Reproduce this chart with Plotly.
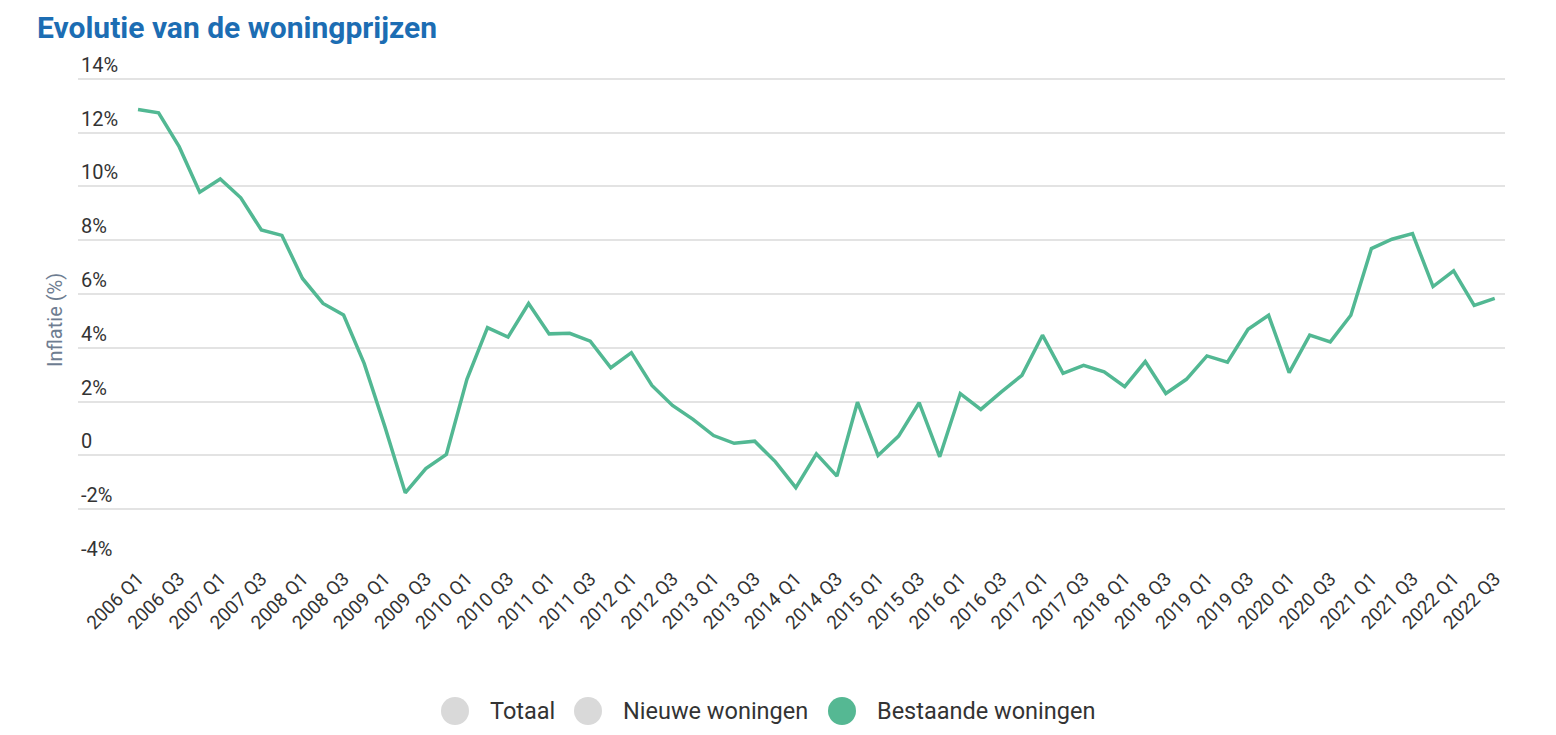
import plotly.graph_objects as go

# ---- data ----
quarters = [f"{y} Q{q}" for y in range(2006, 2023) for q in range(1, 5)][:67]
bestaande = [12.86, 12.74, 11.48, 9.79, 10.28, 9.58, 8.38, 8.18,
             6.58, 5.65, 5.22, 3.42, 1.09, -1.39, -0.49, 0.04,
             2.83, 4.75, 4.40, 5.65, 4.52, 4.54, 4.25, 3.26,
             3.82, 2.60, 1.86, 1.34, 0.74, 0.45, 0.53, -0.23,
             -1.20, 0.06, -0.77, 1.98, 0.00, 0.72, 1.96, -0.05,
             2.30, 1.71, 2.36, 2.98, 4.47, 3.05, 3.35, 3.11,
             2.56, 3.49, 2.30, 2.83, 3.70, 3.47, 4.69, 5.21,
             3.08, 4.47, 4.22, 5.21, 7.69, 8.04, 8.25, 6.28,
             6.86, 5.58, 5.84]
y_ticks = [-4, -2, 0, 2, 4, 6, 8, 10, 12, 14]
y_ticktext = ["-4%", "-2%", "0", "2%", "4%", "6%", "8%", "10%", "12%", "14%"]
legend_names = ["Totaal", "Nieuwe woningen", "Bestaande woningen"]
legend_colors = ["#d9d9d9", "#d9d9d9", "#55b893"]

W, H = 1556, 735
Y_TOP = 15.0
L, R, B = 78, 51, 172
T = int(round(79 - (Y_TOP - 14) * 26.9))
pw, ph = W - L - R, H - T - B

def px_x(p):
    return (p - L) / pw

def px_y(p):
    return (H - B - p) / ph

xs = list(range(len(quarters)))
tickvals = xs[::2]
ticktext = quarters[::2]

fig = go.Figure()
fig.add_trace(go.Scatter(
    x=xs, y=bestaande, mode="lines", name="Bestaande woningen",
    line=dict(color="#52b893", width=3.5), showlegend=False,
    hovertemplate="%{text}: %{y:.1f}%<extra></extra>", text=quarters,
))

shapes = []
annotations = []
# custom legend
leg_circle_x = [455, 588, 842]
leg_y = 711
for cx, name, col in zip(leg_circle_x, legend_names, legend_colors):
    shapes.append(dict(type="circle", xref="paper", yref="paper",
                       xsizemode="pixel", ysizemode="pixel",
                       xanchor=px_x(cx), yanchor=px_y(leg_y),
                       x0=-14, x1=14, y0=-14, y1=14,
                       fillcolor=col, line=dict(width=0)))
    annotations.append(dict(xref="paper", yref="paper", x=px_x(cx + 33), y=px_y(leg_y),
                            xanchor="left", yanchor="middle", showarrow=False,
                            text=name, font=dict(family="Roboto", size=23.5, color="#333333")))

annotations.append(dict(xref="paper", yref="paper", x=px_x(55), y=px_y(320),
                        xanchor="center", yanchor="middle", showarrow=False, textangle=-90,
                        text="Inflatie (%)", font=dict(family="Roboto", size=20, color="#6e7d91")))

fig.update_layout(
    width=W, height=H,
    margin=dict(l=L, r=R, t=T, b=B),
    paper_bgcolor="white", plot_bgcolor="white",
    title=dict(text="<b>Evolutie van de woningprijzen</b>", x=37 / W, xanchor="left",
               xref="container", yref="container", y=1 - 27 / H, yanchor="middle",
               font=dict(family="Roboto", size=30, color="#1c6db3")),
    showlegend=False,
    shapes=shapes, annotations=annotations,
    xaxis=dict(range=[-2.92, 66.5], tickmode="array", tickvals=tickvals, ticktext=ticktext,
               tickangle=-45, showgrid=False, zeroline=False, showline=False, ticks="",
               tickfont=dict(family="Roboto", size=19, color="#333333")),
    yaxis=dict(range=[-4, Y_TOP], tickmode="array", tickvals=y_ticks, ticktext=y_ticktext,
               ticklabelposition="inside top", showgrid=True, gridcolor="#e3e3e3", gridwidth=2,
               zeroline=False, showline=False, ticks="",
               tickfont=dict(family="Roboto", size=20, color="#333333")),
)

fig.write_html("out.html")
